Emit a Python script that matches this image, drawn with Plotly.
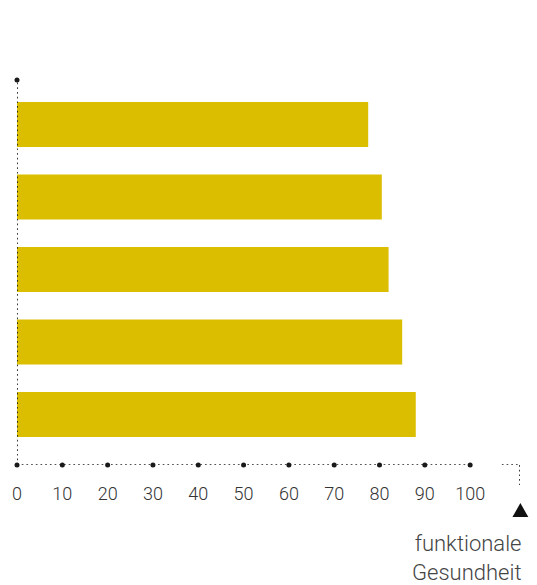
import plotly.graph_objects as go

# Data (bottom to top)
positions = [0, 1, 2, 3, 4]
values = [88.0, 85.0, 82.0, 80.5, 77.5]
tick_vals = [0, 10, 20, 30, 40, 50, 60, 70, 80, 90, 100]
tick_text = ["0", "10", "20", "30", "40", "50", "60", "70", "80", "90", "100"]
axis_label = "funktionale<br>Gesundheit"

BAR = "#DBBE00"
DOT = "#1a1a1a"
YR = [-0.697, 4.614]
XR = [0, 111]

fig = go.Figure()
fig.add_trace(go.Bar(
    x=values, y=positions, orientation="h", width=0.62,
    marker=dict(color=BAR, line=dict(width=0)), hoverinfo="skip"))

# tick dots along the x axis
fig.add_trace(go.Scatter(
    x=tick_vals, y=[YR[0]] * len(tick_vals), mode="markers",
    marker=dict(color=DOT, size=5), cliponaxis=False, hoverinfo="skip"))
# top dot of y axis
fig.add_trace(go.Scatter(
    x=[0], y=[YR[1]], mode="markers",
    marker=dict(color=DOT, size=5), cliponaxis=False, hoverinfo="skip"))

dotted = dict(color=DOT, width=1.7, dash="1.7px,3px")
shapes = [
    dict(type="line", xref="x", yref="y", x0=0, x1=100, y0=YR[0], y1=YR[0], line=dotted),
    dict(type="line", xref="x", yref="y", x0=0, x1=0, y0=YR[0], y1=YR[1], line=dotted),
    dict(type="line", xref="x", yref="y", x0=107.0, x1=111, y0=YR[0], y1=YR[0], line=dotted),
    dict(type="line", xref="x", yref="paper", x0=111, x1=111, y0=0, y1=-0.052, line=dotted),
    dict(type="path", xref="paper", yref="paper",
         path="M 0.985 -0.135 L 1.0165 -0.135 L 1.0008 -0.099 Z",
         fillcolor="#111111", line=dict(width=0)),
]

# the page body has an 8px margin, so the figure is 8px smaller and margins shifted
fig.update_layout(
    width=529, height=577,
    margin=dict(l=9, r=17, t=72, b=120, autoexpand=False),
    paper_bgcolor="white", plot_bgcolor="white",
    showlegend=False, bargap=0.38,
    shapes=shapes,
    xaxis=dict(range=XR, tickvals=tick_vals, ticktext=tick_text,
               showgrid=False, zeroline=False, showline=False, ticks="",
               ticklabelstandoff=16, automargin=False,
               tickfont=dict(family="Roboto, sans-serif", weight=300,
                             size=18, color="#333333")),
    yaxis=dict(range=YR, showgrid=False, zeroline=False, showline=False,
               showticklabels=False, ticks="", automargin=False),
    annotations=[dict(
        text=axis_label, xref="paper", yref="paper", x=1.005, y=-0.166,
        xanchor="right", yanchor="top", align="right", showarrow=False,
        font=dict(family="Roboto, sans-serif", size=22, color="#444444", weight=300))],
)

fig.write_html("out.html")
